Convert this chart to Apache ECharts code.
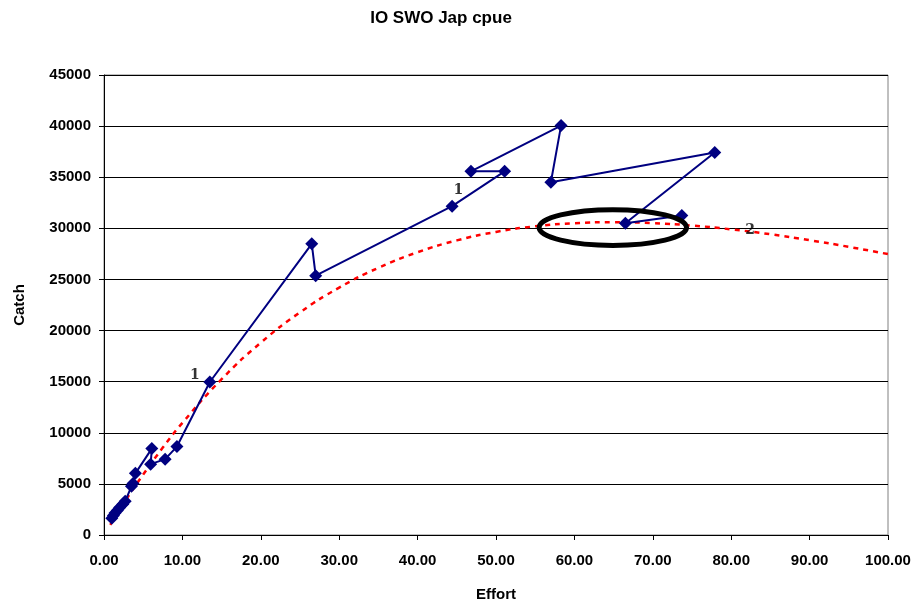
<!DOCTYPE html>
<html>
<head>
<meta charset="utf-8">
<script src="https://cdn.jsdelivr.net/npm/echarts@6/dist/echarts.min.js"></script>
<style>html,body{margin:0;padding:0;background:#fff}#c{width:918px;height:607px}</style>
</head>
<body>
<div id="c"></div>
<script>
// Observed effort / catch pairs (in order of the connecting line)
const effort = [1.0, 1.2, 1.4, 1.7, 2.0, 2.4, 2.7, 3.5, 3.7, 4.0, 6.1, 5.95, 7.8, 9.3, 13.5, 26.5, 27.0, 44.4, 51.1, 46.8, 58.3, 57.0, 77.9, 66.5, 73.7];
const catchVals = [1650, 1900, 2150, 2400, 2700, 3000, 3300, 4760, 5050, 6030, 8450, 6930, 7420, 8650, 14970, 28480, 25370, 32170, 35580, 35580, 40050, 34510, 37420, 30490, 31250];

// Fitted production curve
const curveEffort = [0.8, 2.5, 5, 7.5, 10, 15, 20, 25, 30, 35, 40, 45, 50, 55, 60, 65, 70, 75, 80, 85, 90, 95, 100];
const curveCatch = [1000, 3080, 5920, 8550, 10970, 15240, 18810, 21780, 24200, 26140, 27660, 28820, 29650, 30200, 30500, 30600, 30510, 30270, 29900, 29420, 28840, 28190, 27480];

// Annotation labels
const annotText = ['1', '1', '2'];
const annotEffort = [11.6, 45.2, 82.4];
const annotCatch = [15650, 33730, 29840];

// Highlight ellipse (data units)
const ellipseCenter = [64.9, 30080];
const ellipseRadius = [9.4, 1750];

const chart = echarts.init(document.getElementById('c'), null, {renderer: 'canvas'});
const font = 'Liberation Sans, Arial, sans-serif';

const option = {
  animation: false,
  backgroundColor: '#fff',
  title: {
    text: 'IO SWO Jap cpue',
    left: 436, top: 5, textAlign: 'center',
    textStyle: {fontFamily: font, fontWeight: 'bold', fontSize: 17, color: '#000'}
  },
  grid: {left: 104, right: 30, top: 75, bottom: 68, show: true, borderColor: '#808080', borderWidth: 1},
  xAxis: {
    type: 'value', min: 0, max: 100, interval: 10,
    name: 'Effort', nameLocation: 'middle', nameGap: 52,
    nameTextStyle: {fontFamily: font, fontWeight: 'bold', fontSize: 15, color: '#000'},
    axisLine: {onZero: false, lineStyle: {color: '#000', width: 1}},
    axisTick: {show: true, inside: false, length: 5, lineStyle: {color: '#000'}},
    axisLabel: {formatter: v => v.toFixed(2), margin: 18, fontFamily: font, fontWeight: 'bold', fontSize: 15, color: '#000'},
    splitLine: {show: false}
  },
  yAxis: {
    type: 'value', min: 0, max: 45000, interval: 5000,
    name: 'Catch', nameLocation: 'middle', nameGap: 77, nameRotate: 90,
    nameTextStyle: {fontFamily: font, fontWeight: 'bold', fontSize: 15, color: '#000'},
    axisLine: {show: true, lineStyle: {color: '#000', width: 1}},
    axisTick: {show: true, inside: false, length: 5, lineStyle: {color: '#000'}},
    axisLabel: {formatter: v => String(v), margin: 13, fontFamily: font, fontWeight: 'bold', fontSize: 15, color: '#000'},
    splitLine: {show: true, lineStyle: {color: '#000', width: 1}}
  },
  series: [
    {
      type: 'line', name: 'curve', z: 2,
      data: curveEffort.map((x, i) => [x, curveCatch[i]]),
      smooth: true, showSymbol: false, symbol: 'none',
      lineStyle: {color: '#ff0000', width: 2.5, type: [5, 5]}
    },
    {
      type: 'line', name: 'obs', z: 3,
      data: effort.map((x, i) => [x, catchVals[i]]),
      symbol: 'diamond', symbolSize: 13,
      itemStyle: {color: '#000080'},
      lineStyle: {color: '#000080', width: 2}
    },
    {
      type: 'scatter', name: 'labels', z: 4, symbolSize: 0,
      data: annotEffort.map((x, i) => ({value: [x, annotCatch[i]], label: {formatter: annotText[i]}})),
      label: {show: true, position: 'inside', fontFamily: 'DejaVu Serif, serif', fontWeight: 'bold', fontSize: 14, color: '#000'}
    }
  ]
};
chart.setOption(option);

function drawEllipse() {
  const c = chart.convertToPixel({gridIndex: 0}, ellipseCenter);
  const e = chart.convertToPixel({gridIndex: 0}, [ellipseCenter[0] + ellipseRadius[0], ellipseCenter[1] + ellipseRadius[1]]);
  chart.setOption({
    graphic: [{
      type: 'ellipse', z: 100,
      shape: {cx: c[0], cy: c[1], rx: Math.abs(e[0] - c[0]), ry: Math.abs(c[1] - e[1])},
      style: {fill: 'none', stroke: '#000', lineWidth: 5}
    }]
  });
}
drawEllipse();
</script>
</body>
</html>
